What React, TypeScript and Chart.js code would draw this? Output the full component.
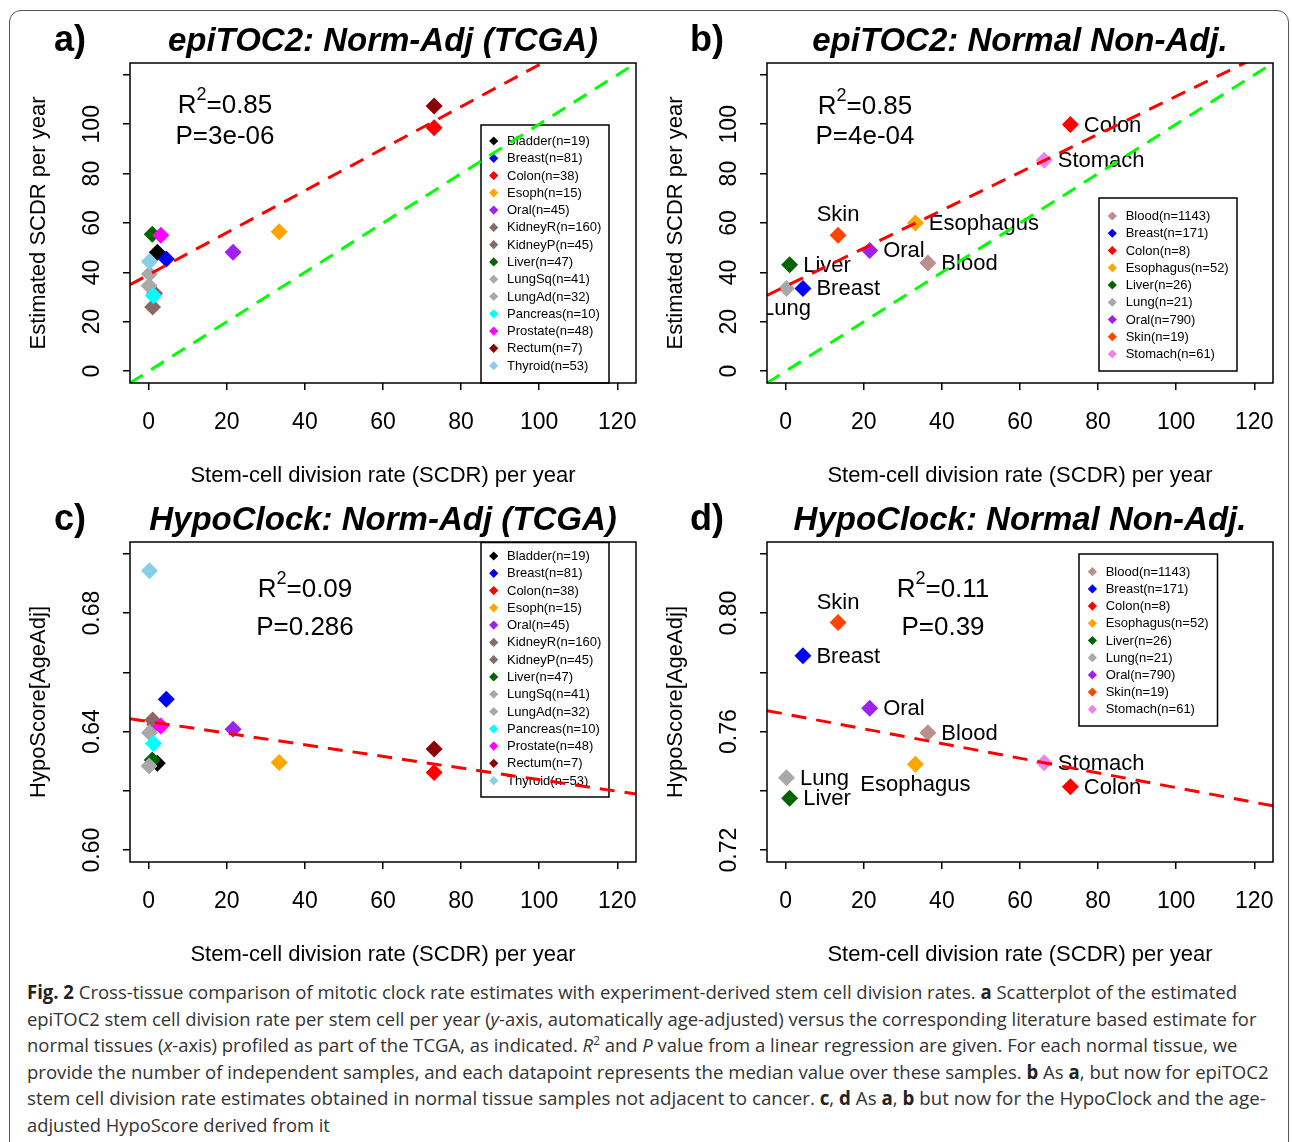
import React, { useEffect, useLayoutEffect, useRef } from "react";
import { Chart, registerables } from "chart.js";

Chart.register(...registerables);

const FONT = '"Liberation Sans", Arial, Helvetica, sans-serif';

// ---------------- data: TCGA normal-adjacent (panels a, c) ----------------
const TCGA_TISSUES = ["Bladder", "Breast", "Colon", "Esoph", "Oral", "KidneyR", "KidneyP", "Liver", "LungSq", "LungAd", "Pancreas", "Prostate", "Rectum", "Thyroid"];
const TCGA_N = [19, 81, 38, 15, 45, 160, 45, 47, 41, 32, 10, 48, 7, 53];
const TCGA_COLORS = ["#000000", "#0000FF", "#FF0000", "#FFA500", "#A020F0", "#8B6969", "#8B6969", "#006400", "#A9A9A9", "#A9A9A9", "#00FFFF", "#FF00FF", "#8B0000", "#87CEEB"];
const TCGA_SCDR = [2.2, 4.5, 73.1, 33.4, 21.6, 1.0, 1.5, 0.9, 0.2, 0.1, 1.2, 3.1, 73.1, 0.2];
const TCGA_EPITOC2 = [48.2, 45.4, 98.6, 56.5, 48.2, 26.0, 31.5, 55.4, 39.3, 34.6, 30.5, 55.0, 107.4, 44.4];
const TCGA_HYPO = [0.6293, 0.6509, 0.6262, 0.6296, 0.6408, 0.6439, 0.6425, 0.6304, 0.6396, 0.6284, 0.636, 0.6419, 0.6341, 0.6943];

// ---------------- data: normal non-adjacent (panels b, d) ----------------
const NONADJ_TISSUES = ["Blood", "Breast", "Colon", "Esophagus", "Liver", "Lung", "Oral", "Skin", "Stomach"];
const NONADJ_N = [1143, 171, 8, 52, 26, 21, 790, 19, 61];
const NONADJ_COLORS = ["#BC8F8F", "#0000FF", "#FF0000", "#FFA500", "#006400", "#A9A9A9", "#A020F0", "#FF4500", "#EE82EE"];
const NONADJ_SCDR = [36.4, 4.4, 72.9, 33.2, 1.0, 0.2, 21.5, 13.4, 66.2];
const NONADJ_EPITOC2 = [43.8, 33.5, 99.9, 60.0, 43.1, 33.5, 48.9, 55.0, 85.4];
const NONADJ_HYPO = [0.7596, 0.7856, 0.7414, 0.749, 0.7375, 0.7444, 0.7679, 0.7968, 0.7495];
const LABEL_POS_B = ["right", "right", "right", "right", "right", "below", "right", "above", "right"];
const LABEL_POS_D = ["right", "right", "right", "below", "right", "right", "right", "above", "right"];

// ---------------- ticks ----------------
const X_TICKS = [0, 20, 40, 60, 80, 100, 120];
const X_TICK_LABELS = ["0", "20", "40", "60", "80", "100", "120"];
const Y_TICKS_EPI = [0, 20, 40, 60, 80, 100, 120];
const Y_TICK_LABELS_EPI = ["0", "20", "40", "60", "80", "100", ""];
const Y_TICKS_HYPO_C = [0.6, 0.62, 0.64, 0.66, 0.68, 0.7];
const Y_TICK_LABELS_HYPO_C = ["0.60", "", "0.64", "", "0.68", ""];
const Y_TICKS_HYPO_D = [0.72, 0.74, 0.76, 0.78, 0.8, 0.82];
const Y_TICK_LABELS_HYPO_D = ["0.72", "", "0.76", "", "0.80", ""];

// ---------------- regression fits ----------------
const FIT_A = { intercept: 39.1, slope: 0.85, r2: "0.85", p: "3e-06" };
const FIT_B = { intercept: 34.4, slope: 0.769, r2: "0.85", p: "4e-04" };
const FIT_C = { intercept: 0.6434, slope: -0.000196, r2: "0.09", p: "0.286" };
const FIT_D = { intercept: 0.7659, slope: -0.000248, r2: "0.11", p: "0.39" };

type PanelCfg = {
  canvas: { left: number; top: number; width: number; height: number };
  area: { left: number; top: number; right: number; bottom: number };
  xMin: number; xMax: number; yMin: number; yMax: number;
  xTicks: number[]; xTickLabels: string[]; yTicks: number[]; yTickLabels: string[];
  xTitle: string; yTitle: string; title: string; letter: string;
  names: string[]; ns: number[]; colors: string[]; xs: number[]; ys: number[];
  fit: { intercept: number; slope: number; r2: string; p: string };
  identity: boolean;
  stats: { dx: number; dy1: number; dy2: number };
  legend: { dx: number; dy: number; w: number; h: number; first: number; step: number; markerDx: number; textDx: number };
  labelPos?: string[];
};

const PANELS: PanelCfg[] = [
  {
    canvas: { left: 10, top: 12, width: 638, height: 478 },
    area: { left: 130, top: 63, right: 636, bottom: 383 },
    xMin: -4.8, xMax: 124.8, yMin: -4.8, yMax: 124.8,
    xTicks: X_TICKS, xTickLabels: X_TICK_LABELS, yTicks: Y_TICKS_EPI, yTickLabels: Y_TICK_LABELS_EPI,
    xTitle: "Stem-cell division rate (SCDR) per year", yTitle: "Estimated SCDR per year",
    title: "epiTOC2: Norm-Adj (TCGA)", letter: "a)",
    names: TCGA_TISSUES, ns: TCGA_N, colors: TCGA_COLORS, xs: TCGA_SCDR, ys: TCGA_EPITOC2,
    fit: FIT_A, identity: true,
    stats: { dx: 95, dy1: 41, dy2: 74 },
    legend: { dx: 351, dy: 62, w: 128, h: 258, first: 16, step: 17.28, markerDx: 12.7, textDx: 26 },
  },
  {
    canvas: { left: 648, top: 12, width: 640, height: 478 },
    area: { left: 767, top: 63, right: 1273, bottom: 383 },
    xMin: -4.8, xMax: 124.8, yMin: -4.8, yMax: 124.8,
    xTicks: X_TICKS, xTickLabels: X_TICK_LABELS, yTicks: Y_TICKS_EPI, yTickLabels: Y_TICK_LABELS_EPI,
    xTitle: "Stem-cell division rate (SCDR) per year", yTitle: "Estimated SCDR per year",
    title: "epiTOC2: Normal Non-Adj.", letter: "b)",
    names: NONADJ_TISSUES, ns: NONADJ_N, colors: NONADJ_COLORS, xs: NONADJ_SCDR, ys: NONADJ_EPITOC2,
    fit: FIT_B, identity: true,
    stats: { dx: 98, dy1: 42, dy2: 74 },
    legend: { dx: 332, dy: 135, w: 138, h: 173, first: 18, step: 17.25, markerDx: 13.3, textDx: 26.7 },
    labelPos: LABEL_POS_B,
  },
  {
    canvas: { left: 10, top: 490, width: 638, height: 485 },
    area: { left: 130, top: 542, right: 636, bottom: 862 },
    xMin: -4.8, xMax: 124.8, yMin: 0.596, yMax: 0.704,
    xTicks: X_TICKS, xTickLabels: X_TICK_LABELS, yTicks: Y_TICKS_HYPO_C, yTickLabels: Y_TICK_LABELS_HYPO_C,
    xTitle: "Stem-cell division rate (SCDR) per year", yTitle: "HypoScore[AgeAdj]",
    title: "HypoClock: Norm-Adj (TCGA)", letter: "c)",
    names: TCGA_TISSUES, ns: TCGA_N, colors: TCGA_COLORS, xs: TCGA_SCDR, ys: TCGA_HYPO,
    fit: FIT_C, identity: false,
    stats: { dx: 175, dy1: 46, dy2: 86 },
    legend: { dx: 351, dy: 0.5, w: 128, h: 254.5, first: 13.5, step: 17.28, markerDx: 12.7, textDx: 26 },
  },
  {
    canvas: { left: 648, top: 490, width: 640, height: 485 },
    area: { left: 767, top: 542, right: 1273, bottom: 862 },
    xMin: -4.8, xMax: 124.8, yMin: 0.716, yMax: 0.824,
    xTicks: X_TICKS, xTickLabels: X_TICK_LABELS, yTicks: Y_TICKS_HYPO_D, yTickLabels: Y_TICK_LABELS_HYPO_D,
    xTitle: "Stem-cell division rate (SCDR) per year", yTitle: "HypoScore[AgeAdj]",
    title: "HypoClock: Normal Non-Adj.", letter: "d)",
    names: NONADJ_TISSUES, ns: NONADJ_N, colors: NONADJ_COLORS, xs: NONADJ_SCDR, ys: NONADJ_HYPO,
    fit: FIT_D, identity: false,
    stats: { dx: 176, dy1: 46, dy2: 86 },
    legend: { dx: 312, dy: 12, w: 138.5, h: 172, first: 17.7, step: 17.2, markerDx: 13.4, textDx: 26.7 },
    labelPos: LABEL_POS_D,
  },
];

function diamond(ctx: CanvasRenderingContext2D, x: number, y: number, r: number) {
  ctx.beginPath();
  ctx.moveTo(x - r, y);
  ctx.lineTo(x, y - r);
  ctx.lineTo(x + r, y);
  ctx.lineTo(x, y + r);
  ctx.closePath();
  ctx.fill();
}

function Panel({ cfg }: { cfg: PanelCfg }) {
  const ref = useRef<HTMLCanvasElement>(null);
  useEffect(() => {
    const c = cfg;
    const canvas = ref.current!;
    const ax = {
      left: c.area.left - c.canvas.left,
      top: c.area.top - c.canvas.top,
      right: c.area.right - c.canvas.left,
      bottom: c.area.bottom - c.canvas.top,
    };
    const datasets: any[] = c.names.map((name, i) => ({
      type: "scatter",
      label: name,
      data: [{ x: c.xs[i], y: c.ys[i] }],
      backgroundColor: c.colors[i],
      borderColor: c.colors[i],
      borderWidth: 0,
      pointStyle: "rectRot",
      pointRadius: 8.5,
      pointHoverRadius: 8.5,
      order: -i,
    }));
    const lineDs = (a: number, b: number, color: string) => ({
      type: "line",
      data: [
        { x: c.xMin, y: a + b * c.xMin },
        { x: c.xMax, y: a + b * c.xMax },
      ],
      borderColor: color,
      borderWidth: 3,
      borderDash: [15, 10],
      pointRadius: 0,
      pointHoverRadius: 0,
      fill: false,
      clip: 0,
      order: -100,
    });
    if (c.identity) datasets.push(lineDs(0, 1, "#00FF00"));
    datasets.push(lineDs(c.fit.intercept, c.fit.slope, "#FF0000"));

    const scaleBase = (min: number, max: number, ticks: number[]) => ({
      type: "linear",
      min,
      max,
      afterBuildTicks: (s: any) => {
        s.ticks = ticks.map((v) => ({ value: v }));
      },
      ticks: { display: false },
      grid: { drawOnChartArea: false, drawTicks: true, tickLength: 7, color: "#000", lineWidth: 1.5 },
      border: { display: false },
    });

    const deco = {
      id: "deco",
      beforeDatasetsDraw(chart: any) {
        const ctx: CanvasRenderingContext2D = chart.ctx;
        const ca = chart.chartArea;
        const xs = chart.scales.x;
        const ys = chart.scales.y;
        // legend box
        const L = c.legend;
        const lx = ca.left + L.dx;
        const ly = ca.top + L.dy;
        ctx.save();
        ctx.fillStyle = "#fff";
        ctx.fillRect(lx, ly, L.w, L.h);
        ctx.strokeStyle = "#000";
        ctx.lineWidth = 1.5;
        ctx.strokeRect(lx, ly, L.w, L.h);
        ctx.font = `13px ${FONT}`;
        ctx.textAlign = "left";
        ctx.textBaseline = "middle";
        c.names.forEach((name, i) => {
          const ey = ly + L.first + i * L.step;
          ctx.fillStyle = c.colors[i];
          diamond(ctx, lx + L.markerDx, ey, 4.6);
          ctx.fillStyle = "#000";
          ctx.fillText(`${name}(n=${c.ns[i]})`, lx + L.textDx, ey + 0.5);
        });
        ctx.restore();
        // point labels
        if (c.labelPos) {
          ctx.save();
          ctx.beginPath();
          ctx.rect(ca.left, ca.top, ca.right - ca.left, ca.bottom - ca.top);
          ctx.clip();
          ctx.font = `22px ${FONT}`;
          ctx.fillStyle = "#000";
          ctx.textBaseline = "middle";
          c.names.forEach((name, i) => {
            const px = xs.getPixelForValue(c.xs[i]);
            const py = ys.getPixelForValue(c.ys[i]);
            const pos = c.labelPos![i];
            if (pos === "right") {
              ctx.textAlign = "left";
              ctx.fillText(name, px + 13.5, py + 1);
            } else if (pos === "above") {
              ctx.textAlign = "center";
              ctx.fillText(name, px, py - 20);
            } else {
              ctx.textAlign = "center";
              ctx.fillText(name, px, py + 21);
            }
          });
          ctx.restore();
        }
      },
      afterDraw(chart: any) {
        const ctx: CanvasRenderingContext2D = chart.ctx;
        const ca = chart.chartArea;
        const xs = chart.scales.x;
        const ys = chart.scales.y;
        ctx.save();
        // box
        ctx.strokeStyle = "#000";
        ctx.lineWidth = 1.5;
        ctx.strokeRect(ca.left, ca.top, ca.right - ca.left, ca.bottom - ca.top);
        ctx.fillStyle = "#000";
        // x tick labels
        ctx.font = `23px ${FONT}`;
        ctx.textAlign = "center";
        ctx.textBaseline = "middle";
        c.xTicks.forEach((v, i) => {
          ctx.fillText(c.xTickLabels[i], xs.getPixelForValue(v), ca.bottom + 40);
        });
        // y tick labels (rotated)
        c.yTicks.forEach((v, i) => {
          const lab = c.yTickLabels[i];
          if (!lab) return;
          ctx.save();
          ctx.translate(ca.left - 37, ys.getPixelForValue(v));
          ctx.rotate(-Math.PI / 2);
          ctx.fillText(lab, 0, 0);
          ctx.restore();
        });
        // axis titles
        ctx.font = `22px ${FONT}`;
        ctx.fillText(c.xTitle, (ca.left + ca.right) / 2, ca.bottom + 93);
        ctx.save();
        ctx.translate(ca.left - 91, (ca.top + ca.bottom) / 2);
        ctx.rotate(-Math.PI / 2);
        ctx.fillText(c.yTitle, 0, 0);
        ctx.restore();
        // title and panel letter
        ctx.textBaseline = "alphabetic";
        ctx.font = `italic bold 33px ${FONT}`;
        ctx.fillText(c.title, (ca.left + ca.right) / 2, ca.top - 12);
        ctx.font = `bold 36px ${FONT}`;
        ctx.fillText(c.letter, ca.left - 60, ca.top - 12);
        // R^2 and P
        const cx = ca.left + c.stats.dx;
        const y1 = ca.top + c.stats.dy1;
        const y2 = ca.top + c.stats.dy2;
        ctx.textBaseline = "middle";
        ctx.font = `26px ${FONT}`;
        const wR = ctx.measureText("R").width;
        const rest = "=" + c.fit.r2;
        const wRest = ctx.measureText(rest).width;
        ctx.font = `18px ${FONT}`;
        const w2 = ctx.measureText("2").width;
        const total = wR + w2 + wRest;
        let sx = cx - total / 2;
        ctx.textAlign = "left";
        ctx.font = `26px ${FONT}`;
        ctx.fillText("R", sx, y1 + 2);
        ctx.font = `18px ${FONT}`;
        ctx.fillText("2", sx + wR, y1 - 9);
        ctx.font = `26px ${FONT}`;
        ctx.fillText(rest, sx + wR + w2, y1 + 2);
        ctx.textAlign = "center";
        ctx.fillText("P=" + c.fit.p, cx, y2);
        ctx.restore();
      },
    };

    const chart = new Chart(canvas, {
      type: "scatter",
      data: { datasets },
      options: {
        animation: false,
        responsive: false,
        devicePixelRatio: 1,
        events: [],
        layout: {
          padding: { top: ax.top, right: c.canvas.width - ax.right, left: 0, bottom: 0 },
        },
        plugins: { legend: { display: false }, tooltip: { enabled: false }, title: { display: false } },
        scales: {
          x: {
            ...scaleBase(c.xMin, c.xMax, c.xTicks),
            position: "bottom",
            afterFit: (s: any) => {
              s.height = c.canvas.height - ax.bottom;
            },
          },
          y: {
            ...scaleBase(c.yMin, c.yMax, c.yTicks),
            position: "left",
            afterFit: (s: any) => {
              s.width = ax.left;
            },
          },
        },
      } as any,
      plugins: [deco as any],
    });
    return () => chart.destroy();
  }, [cfg]);
  return (
    <canvas
      ref={ref}
      width={cfg.canvas.width}
      height={cfg.canvas.height}
      style={{
        position: "absolute",
        left: cfg.canvas.left,
        top: cfg.canvas.top,
        width: cfg.canvas.width,
        height: cfg.canvas.height,
      }}
    />
  );
}

type Seg = { t: string; b?: boolean; i?: boolean; sup?: boolean };
const CAPTION_LINES: Seg[][] = [
  [
    { t: "Fig. 2", b: true },
    { t: " Cross-tissue comparison of mitotic clock rate estimates with experiment-derived stem cell division rates. " },
    { t: "a", b: true },
    { t: " Scatterplot of the estimated" },
  ],
  [
    { t: "epiTOC2 stem cell division rate per stem cell per year (" },
    { t: "y", i: true },
    { t: "-axis, automatically age-adjusted) versus the corresponding literature based estimate for" },
  ],
  [
    { t: "normal tissues (" },
    { t: "x", i: true },
    { t: "-axis) profiled as part of the TCGA, as indicated. " },
    { t: "R", i: true },
    { t: "2", sup: true },
    { t: " and " },
    { t: "P", i: true },
    { t: " value from a linear regression are given. For each normal tissue, we" },
  ],
  [
    { t: "provide the number of independent samples, and each datapoint represents the median value over these samples. " },
    { t: "b", b: true },
    { t: " As " },
    { t: "a", b: true },
    { t: ", but now for epiTOC2" },
  ],
  [
    { t: "stem cell division rate estimates obtained in normal tissue samples not adjacent to cancer. " },
    { t: "c", b: true },
    { t: ", " },
    { t: "d", b: true },
    { t: " As " },
    { t: "a", b: true },
    { t: ", " },
    { t: "b", b: true },
    { t: " but now for the HypoClock and the age-" },
  ],
  [{ t: "adjusted HypoScore derived from it" }],
];

function Caption() {
  const ends = [1237, 1256, 1237, 1269, 1266, 330];
  const refs = useRef<(HTMLSpanElement | null)[]>([]);
  useLayoutEffect(() => {
    refs.current.forEach((el, i) => {
      if (!el) return;
      const w = el.offsetWidth;
      if (w > 0) el.style.transform = `scaleX(${(ends[i] - 27) / w})`;
    });
  }, []);
  return (
    <>
      {CAPTION_LINES.map((segs, i) => (
        <div
          key={i}
          style={{
            position: "absolute",
            left: 27,
            top: 979 + i * 26.6,
            height: 26,
            lineHeight: "26px",
            whiteSpace: "nowrap",
          }}
        >
          <span
            ref={(el) => {
              refs.current[i] = el;
            }}
            style={{
              display: "inline-block",
              transformOrigin: "left center",
              fontFamily: '"Open Sans", "Noto Sans", sans-serif',
              fontSize: 19,
              color: "#333",
            }}
          >
            {segs.map((s, j) =>
              s.sup ? (
                <sup key={j} style={{ fontSize: 12, lineHeight: 0 }}>
                  {s.t}
                </sup>
              ) : (
                <span
                  key={j}
                  style={{ fontWeight: s.b ? 700 : 400, fontStyle: s.i ? "italic" : "normal", color: s.b ? "#222" : undefined }}
                >
                  {s.t}
                </span>
              )
            )}
          </span>
        </div>
      ))}
    </>
  );
}

export default function App() {
  return (
    <div
      style={{
        position: "absolute",
        left: 0,
        top: 0,
        width: 1292,
        height: 1142,
        overflow: "hidden",
        background: "#fff",
      }}
    >
      <div
        style={{
          position: "absolute",
          left: 9,
          top: 10,
          width: 1280,
          height: 1160,
          border: "1.5px solid #555",
          borderRadius: 12,
          boxSizing: "border-box",
        }}
      />
      {PANELS.map((p, i) => (
        <Panel key={i} cfg={p} />
      ))}
      <Caption />
    </div>
  );
}
